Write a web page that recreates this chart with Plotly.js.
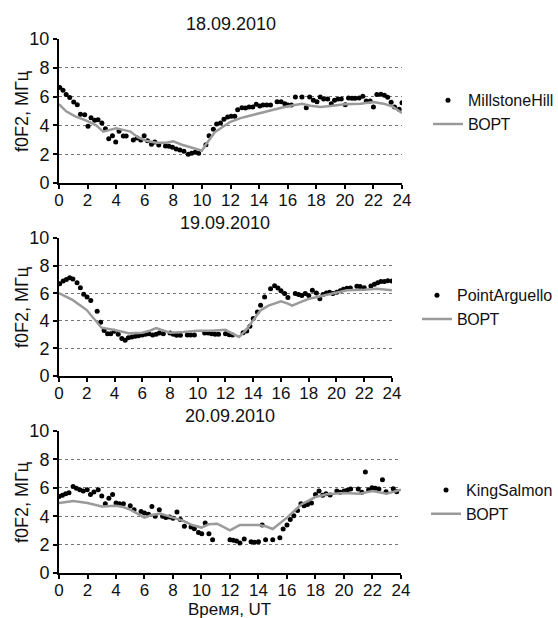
<!DOCTYPE html>
<html>
<head>
<meta charset="utf-8">
<script src="https://cdn.plot.ly/plotly-3.0.1.min.js"></script>
<style>html,body{margin:0;padding:0;background:#fff;}#chart{width:558px;height:618px;}</style>
</head>
<body>
<div id="chart"></div>
<script>
// ---- Panel 1: 18.09.2010, MillstoneHill ----
const mhT = [0.05,0.28,0.5,0.75,1.03,1.28,1.5,1.8,2.03,2.24,2.5,2.73,3.0,3.25,3.48,3.74,3.97,4.2,4.5,4.7,5.2,5.47,5.72,5.96,6.19,6.47,6.7,6.98,7.45,7.7,7.94,8.2,8.46,8.74,9.04,9.28,9.53,9.77,10.28,10.5,10.8,11.03,11.3,11.54,11.8,12.05,12.3,12.5,12.8,13.05,13.3,13.56,13.8,14.05,14.28,14.54,14.8,15.26,15.54,15.8,16.02,16.26,16.54,17.0,17.3,17.54,17.8,18.05,18.28,18.52,18.8,19.05,19.28,19.52,19.75,20.03,20.26,20.5,20.72,21.0,21.26,21.5,21.77,22.0,22.24,22.52,22.77,23.0,23.24,23.48,23.8,24.0];
const mhF = [6.64,6.45,6.15,5.93,5.63,5.44,4.77,4.74,3.95,4.53,4.35,4.39,4.16,3.76,3.08,3.29,2.85,3.6,3.27,3.27,2.99,3.13,2.99,3.29,2.94,2.69,2.85,2.64,2.57,2.55,2.48,2.36,2.29,2.2,1.99,2.06,2.13,2.06,2.66,3.29,3.74,4.09,4.16,4.42,4.58,4.63,4.63,5.09,5.23,5.21,5.28,5.28,5.47,5.35,5.42,5.42,5.42,5.65,5.65,5.51,5.42,5.42,5.98,5.98,5.23,5.98,5.75,5.65,5.98,5.84,5.84,5.51,5.75,5.84,5.84,5.44,5.91,5.89,5.89,5.91,6.03,5.7,5.7,5.28,6.14,6.17,6.1,5.96,5.61,5.28,5.12,5.58];
const mhModelT = [0,0.5,1.1,2,2.6,3.1,3.55,4.0,4.5,5.0,5.5,6.1,6.8,7.5,8.0,8.6,9.2,10.0,10.3,10.9,11.5,12.0,12.7,13.4,14.1,15.0,16.0,17.0,17.6,18.3,19.0,20.0,21.1,22.0,22.7,23.3,24.0];
const mhModel = [5.47,4.98,4.65,4.3,4.0,3.57,3.69,3.8,3.69,3.57,3.18,2.94,2.8,2.8,2.9,2.66,2.48,2.24,2.71,3.53,3.93,4.25,4.51,4.7,4.86,5.09,5.33,5.51,5.37,5.28,5.35,5.47,5.51,5.63,5.51,5.33,4.86];

// ---- Panel 2: 19.09.2010, PointArguello ----
const paT = [0.05,0.3,0.53,0.77,1.0,1.3,1.54,1.78,2.02,2.29,2.75,3.0,3.25,3.5,3.73,3.98,4.27,4.53,4.77,5.0,5.25,5.5,5.73,6.0,6.24,6.48,6.75,7.0,7.23,7.52,8.0,8.24,8.48,8.75,9.25,9.5,9.76,10.5,10.75,11.0,11.25,11.5,12.0,12.27,12.5,13.27,13.53,13.76,14.0,14.3,14.53,14.82,15.25,15.54,15.78,16.0,16.26,16.5,17.03,17.27,17.5,17.75,18.0,18.26,18.55,18.8,19.03,19.27,19.5,19.74,20.02,20.27,20.5,20.75,21.0,21.47,21.7,22.0,22.48,22.73,22.97,23.2,23.45,23.7,24.0];
const paF = [6.69,6.88,7.0,7.12,7.03,6.76,6.4,5.92,5.72,5.48,4.69,3.89,3.29,3.07,3.07,3.24,3.02,2.71,2.59,2.78,2.83,2.88,2.92,2.97,3.02,3.07,2.97,3.02,3.12,3.07,3.12,3.02,2.95,2.95,2.97,2.97,2.97,3.12,3.12,3.07,3.02,3.02,3.07,2.99,2.97,3.14,3.26,3.6,4.16,4.64,5.12,5.73,6.33,6.55,6.38,6.17,5.98,5.69,5.98,5.9,5.83,5.98,5.83,6.21,6.02,5.59,5.9,6.02,6.07,5.98,6.07,6.17,6.29,6.36,6.38,6.5,6.48,6.4,6.53,6.65,6.76,6.84,6.84,6.91,6.89];
const paModelT = [0,1.0,2.0,3.06,4.0,5.1,6.0,6.55,7.0,7.5,8.0,9.0,10.0,11.0,12.0,12.5,12.98,13.46,14.0,14.53,15.1,16.0,16.5,16.8,17.4,18.0,18.6,19.3,20.0,20.75,22.0,22.9,24.0];
const paModel = [6.0,5.5,4.78,3.5,3.33,3.09,3.14,3.28,3.47,3.33,3.14,3.19,3.28,3.28,3.35,3.07,2.83,3.31,4.09,4.76,5.1,5.41,5.25,5.1,5.36,5.59,5.73,5.9,6.02,6.21,6.26,6.33,6.21];

// ---- Panel 3: 20.09.2010, KingSalmon ----
const ksT = [0,0.24,0.47,0.7,0.99,1.22,1.46,1.7,1.98,2.21,2.45,2.75,3.0,3.25,3.5,3.76,4.0,4.24,4.52,5.0,5.27,5.76,6.0,6.28,6.52,6.75,7.04,7.27,7.5,7.76,8.0,8.28,8.52,8.8,9.27,9.5,9.79,10.02,10.26,10.52,10.78,12.0,12.23,12.46,12.7,13.0,13.48,13.73,14.0,14.26,14.5,15.0,15.5,15.73,16.0,16.23,16.48,16.74,16.98,17.2,17.44,17.72,18.0,18.25,18.5,18.74,19.03,19.5,19.72,20.0,20.23,20.47,21.0,21.26,21.5,21.73,21.97,22.2,22.45,22.7,22.95,23.46,23.7];
const ksF = [5.38,5.47,5.59,5.66,6.1,5.96,5.87,5.77,5.87,5.52,5.7,5.87,5.42,4.88,5.26,5.52,4.93,4.88,4.88,4.74,4.46,4.34,4.23,4.13,4.69,4.0,4.46,4.0,3.9,3.95,3.85,4.3,3.76,3.29,3.24,3.12,2.86,2.77,3.52,2.77,2.35,2.35,2.3,2.25,2.11,2.39,2.2,2.16,2.2,3.38,2.35,2.35,2.49,3.1,3.38,3.76,4.04,4.41,4.88,4.74,4.83,4.93,5.52,5.77,5.47,5.59,5.5,5.77,5.68,5.77,5.82,5.92,5.92,5.68,7.11,5.87,6.01,5.96,5.92,6.57,5.73,5.94,5.73];
const ksModelT = [0,1.0,2.0,3.0,4.0,4.5,5.0,6.0,6.5,7.1,8.0,8.75,9.34,10.0,10.5,11.1,12.0,12.7,13.2,14.0,14.5,15.0,16.0,17.0,18.0,18.8,20.0,21.1,22.0,23.0,24.0];
const ksModel = [4.93,5.07,4.93,4.69,4.74,4.65,4.46,3.9,4.08,4.18,3.9,3.66,3.38,3.2,3.43,3.47,3.0,3.38,3.38,3.38,3.29,3.1,3.9,4.83,5.35,5.54,5.63,5.59,5.77,5.59,5.87];

const dates = ['18.09.2010','19.09.2010','20.09.2010'];
const stations = ['MillstoneHill','PointArguello','KingSalmon'];
const modelName = 'ВОРТ';
const yTitle = 'f0F2, МГц';
const xTitle = 'Время, UT';
const xTicks = [0,2,4,6,8,10,12,14,16,18,20,22,24];
const yTicks = [0,2,4,6,8,10];

const FONT = 'Liberation Sans, Arial, sans-serif';
const obsT = [mhT, paT, ksT], obsF = [mhF, paF, ksF];
const modT = [mhModelT, paModelT, ksModelT], modF = [mhModel, paModel, ksModel];

const traces = [];
for (let i = 0; i < 3; i++) {
  const ax = i === 0 ? '' : String(i + 1);
  traces.push({
    x: obsT[i], y: obsF[i], type: 'scatter', mode: 'markers', name: stations[i],
    xaxis: 'x' + ax, yaxis: 'y' + ax, legend: 'legend' + ax,
    marker: {color: '#000', size: 5}
  });
  traces.push({
    x: modT[i], y: modF[i], type: 'scatter', mode: 'lines', name: modelName,
    xaxis: 'x' + ax, yaxis: 'y' + ax, legend: 'legend' + ax,
    line: {color: '#9a9a9a', width: 2.5}
  });
}

const xDomains = [[0, 1], [0, 0.9708], [0, 0.997]];
const yDomains = [[0.7303, 1], [0.3689, 0.6273], [0, 0.2659]];
const legendPos = [[1.0758, 0.917], [1.0437, 0.552], [1.07, 0.187]];

const layout = {
  width: 558, height: 618,
  margin: {l: 59, r: 156, t: 39, b: 45, autoexpand: false},
  paper_bgcolor: '#fff', plot_bgcolor: '#fff',
  font: {family: FONT, size: 17, color: '#111'},
  showlegend: true,
  annotations: []
};
for (let i = 0; i < 3; i++) {
  const ax = i === 0 ? '' : String(i + 1);
  layout['xaxis' + ax] = {
    domain: xDomains[i], anchor: 'y' + ax, range: [0, 24],
    tickvals: xTicks, ticktext: xTicks.map(String),
    showgrid: false, zeroline: false, showline: true, linecolor: '#000', linewidth: 2,
    ticks: 'outside', ticklen: 4, tickwidth: 2, tickcolor: '#000', ticklabelstandoff: -3,
    tickfont: {family: FONT, size: 17, color: '#111'}, fixedrange: true
  };
  layout['yaxis' + ax] = {
    domain: yDomains[i], anchor: 'x' + ax, range: [0, 10],
    tickvals: yTicks, ticktext: yTicks.map(String),
    showgrid: true, gridcolor: '#777', griddash: 'dot', gridwidth: 1,
    zeroline: false, showline: true, linecolor: '#000', linewidth: 2,
    ticks: 'outside', ticklen: 4, tickwidth: 2, tickcolor: '#000',
    tickfont: {family: FONT, size: 18, color: '#111'},
    fixedrange: true
  };
  layout['legend' + ax] = {
    x: legendPos[i][0], y: legendPos[i][1], xanchor: 'left', yanchor: 'top',
    bgcolor: 'rgba(0,0,0,0)', borderwidth: 0, tracegroupgap: 0,
    font: {family: FONT, size: 16, color: '#111'}
  };
  layout.annotations.push({
    text: dates[i], xref: 'x' + ax + ' domain', yref: 'y' + ax + ' domain',
    x: 0.5, y: 1, yshift: 3, xanchor: 'center', yanchor: 'bottom', showarrow: false,
    font: {family: FONT, size: 18, color: '#111'}
  });
  layout.annotations.push({
    text: yTitle, xref: 'paper', yref: 'y' + ax + ' domain',
    x: -0.108, y: 0.5, xanchor: 'center', yanchor: 'middle', textangle: -90, showarrow: false,
    font: {family: FONT, size: 18, color: '#111'}
  });
}
layout.annotations.push({
  text: xTitle, xref: 'x3 domain', yref: 'paper',
  x: 0.5, y: -0.069, xanchor: 'center', yanchor: 'middle', showarrow: false,
  font: {family: FONT, size: 17, color: '#111'}
});

Plotly.newPlot('chart', traces, layout, {displayModeBar: false, staticPlot: true});
</script>
</body>
</html>
